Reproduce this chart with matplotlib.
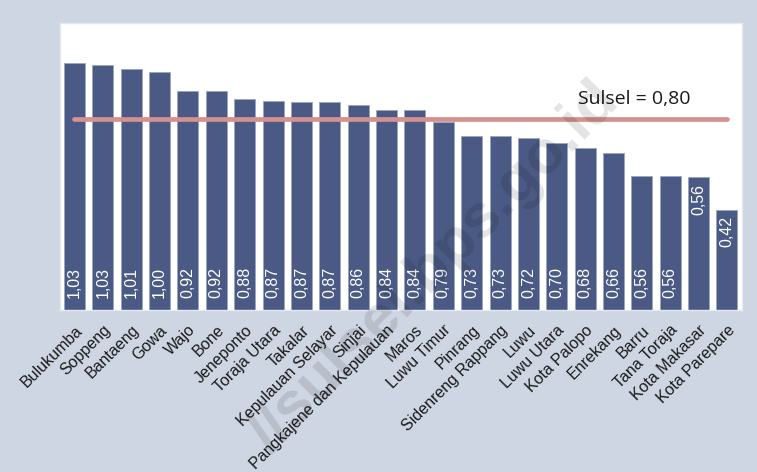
import matplotlib
matplotlib.use("Agg")
import matplotlib.pyplot as plt
import numpy as np

categories = ["Bulukumba", "Soppeng", "Bantaeng", "Gowa", "Wajo", "Bone", "Jeneponto",
              "Toraja Utara", "Takalar", "Kepulauan Selayar", "Sinjai",
              "Pangkajene dan Kepulauan", "Maros", "Luwu Timur", "Pinrang",
              "Sidenreng Rappang", "Luwu", "Luwu Utara", "Kota Palopo", "Enrekang",
              "Barru", "Tana Toraja", "Kota Makasar", "Kota Parepare"]
values = [1.032, 1.026, 1.009, 0.996, 0.917, 0.917, 0.882, 0.874, 0.870, 0.870, 0.858,
          0.837, 0.837, 0.788, 0.727, 0.726, 0.718, 0.697, 0.677, 0.656, 0.559, 0.559,
          0.556, 0.420]
label_at_top = [False] * 22 + [True, True]
sulsel_value = 0.80
sulsel_label = "Sulsel = 0,80"
watermark = "//sulsel.bps.go.id"

W, H = 757, 472
fig = plt.figure(figsize=(W / 100, H / 100), dpi=100, facecolor="#ced5e3")
ax = fig.add_axes([60 / W, 1 - 310 / H, (742 - 60) / W, (310 - 23) / H])
ax.set_facecolor("white")

x = np.arange(len(categories))
ax.bar(x, values, width=0.74, color="#4b5a85", edgecolor="#9aa5c0", linewidth=0.6, zorder=2)

for xi, v, top in zip(x, values, label_at_top):
    s = f"{v:.2f}".replace(".", ",")
    if top:
        ax.text(xi, v - 0.028, s, rotation=90, ha="center", va="top", color="white",
                fontsize=11.5, family="Liberation Sans", zorder=3)
    else:
        ax.text(xi, 0.05, s, rotation=90, ha="center", va="bottom", color="white",
                fontsize=11.5, family="Liberation Sans", zorder=3)

ax.plot([x[0], x[-1]], [sulsel_value, sulsel_value], color="#d4918f", linewidth=3.4,
        solid_capstyle="round", zorder=4)
ax.text(17.75, 0.862, sulsel_label, ha="left", va="baseline", fontsize=14,
        family="Open Sans", color="#1a1a1a", zorder=5)

ax.set_xlim(-0.51, 23.53)
ax.set_ylim(0, 1.2)
ax.set_yticks([])
ax.set_xticks(x)
ax.set_xticklabels(categories, rotation=45, ha="right", rotation_mode="anchor",
                   fontsize=11.5, family="Liberation Sans", color="#1a1a1a")
ax.tick_params(axis="x", length=0, pad=9)
for sp in ax.spines.values():
    sp.set_color("#e4eaf3")
    sp.set_linewidth(1.0)

fig.text(435 / W, 1 - 268 / H, watermark, rotation=45, ha="center", va="center",
         fontsize=44, fontweight="bold", family="Liberation Sans", color="black",
         alpha=0.11, zorder=10)

fig.savefig("out.png", dpi=100, facecolor=fig.get_facecolor())
